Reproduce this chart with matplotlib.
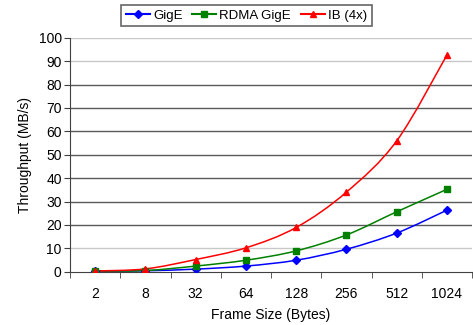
import matplotlib.pyplot as plt
import numpy as np
from matplotlib.path import Path
from matplotlib.patches import PathPatch

plt.rcParams['font.family'] = ['Liberation Sans', 'DejaVu Sans']

frame_sizes = ['2', '8', '32', '64', '128', '256', '512', '1024']
gige = [0.2, 0.4, 1.1, 2.4, 4.9, 9.6, 16.5, 26.3]
rdma_gige = [0.3, 0.5, 2.4, 4.9, 8.9, 15.7, 25.6, 35.2]
ib_4x = [0.3, 1.2, 5.2, 10.2, 18.9, 34.0, 55.9, 92.6]


def smooth_path(x, y):
    # Excel-like smoothed line: cubic Bezier segments through the points
    x = np.asarray(x, float)
    y = np.asarray(y, float)
    verts = [(x[0], y[0])]
    codes = [Path.MOVETO]
    n = len(x)
    for i in range(n - 1):
        p0 = np.array([x[max(i - 1, 0)], y[max(i - 1, 0)]])
        p1 = np.array([x[i], y[i]])
        p2 = np.array([x[i + 1], y[i + 1]])
        p3 = np.array([x[min(i + 2, n - 1)], y[min(i + 2, n - 1)]])
        c1 = p1 + (p2 - p0) / 6
        c2 = p2 - (p3 - p1) / 6
        verts += [tuple(c1), tuple(c2), tuple(p2)]
        codes += [Path.CURVE4] * 3
    return Path(verts, codes)


fig = plt.figure(figsize=(4.73, 3.25), dpi=100)
ax = fig.add_axes([0.148, 0.164, 0.850, 0.720])

xs = np.arange(len(frame_sizes))
series = [
    ('GigE', gige, '#0000ff', 'D', 4),
    ('RDMA GigE', rdma_gige, '#008000', 's', 4.5),
    ('IB (4x)', ib_4x, '#ff0000', '^', 5),
]
for label, vals, color, marker, ms in series:
    ax.add_patch(PathPatch(smooth_path(xs, vals), fill=False, edgecolor=color,
                           lw=1.1, zorder=3))
    ax.plot(xs, vals, ls='none', color=color, marker=marker, ms=ms,
            label=label, zorder=4)

ax.set_xlim(-0.5, len(frame_sizes) - 0.5)
ax.set_ylim(0, 100)
yticks = np.arange(0, 101, 10)
ax.set_yticks(yticks)
ax.set_xticks(xs)
ax.set_xticklabels(frame_sizes)
ax.set_xticks(np.arange(-0.5, len(frame_sizes), 1), minor=True)
ax.tick_params(axis='x', which='major', length=0, pad=11, labelsize=10)
ax.tick_params(axis='x', which='minor', length=4, color='#404040')
ax.tick_params(axis='y', length=4, color='#404040', labelsize=10, pad=2)

# horizontal gridlines (some render lighter in the original)
for v in yticks[1:]:
    c = '#c8c8c8' if v in (10, 90, 100) else '#5a5a5a'
    ax.axhline(v, color=c, lw=1.0, zorder=1)
for s in ['top', 'right']:
    ax.spines[s].set_visible(False)
for s in ['left', 'bottom']:
    ax.spines[s].set_color('#404040')

ax.set_xlabel('Frame Size (Bytes)', fontsize=10, labelpad=5)
ax.set_ylabel('Throughput (MB/s)', fontsize=10, labelpad=5)

handles = []
for label, vals, color, marker, ms in series:
    handles.append(plt.Line2D([], [], color=color, marker=marker, ms=ms,
                              lw=1.5, label=label))
leg = fig.legend(handles=handles, loc='upper center', ncol=3,
                 bbox_to_anchor=(0.521, 0.985), fontsize=9.5, frameon=True,
                 fancybox=False, edgecolor='#404040', handlelength=1.8,
                 handletextpad=0.25, columnspacing=0.75, borderpad=0.35,
                 borderaxespad=0)
leg.get_frame().set_linewidth(1.2)

fig.savefig('out.png', dpi=100)
